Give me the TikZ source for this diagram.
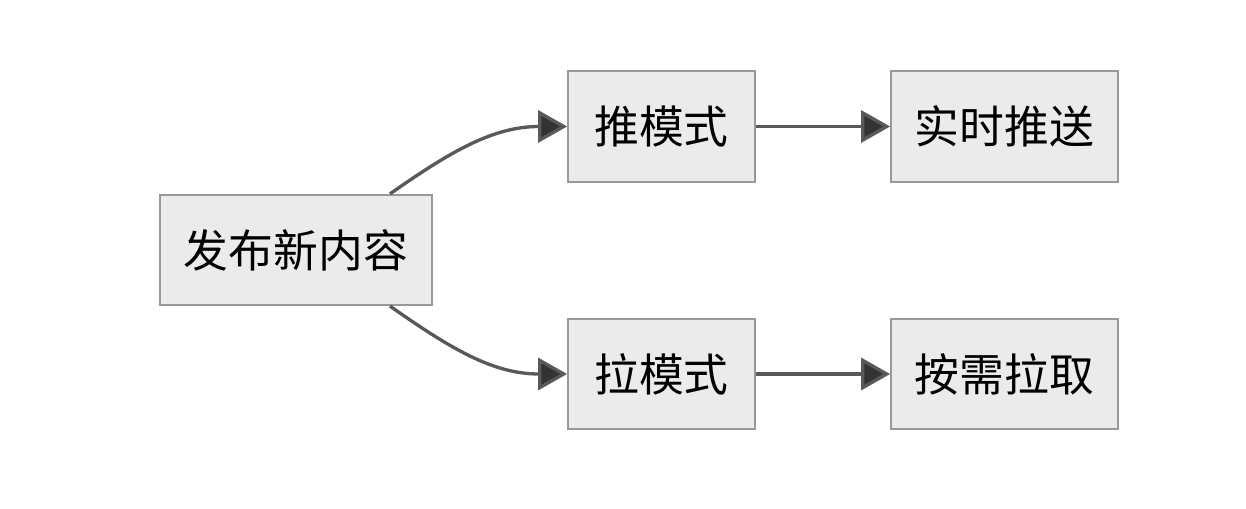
\documentclass[tikz,border=0pt]{standalone}
\usepackage{fontspec}
\setmainfont{Noto Sans CJK SC}
\usetikzlibrary{shapes, arrows, arrows.meta}

\tikzset{
  box/.style={draw=black!40, line width=1pt, fill=black!8, rectangle, minimum height=2.21cm, font=\fontsize{25.5}{30}\selectfont, inner sep=0pt},
  link/.style={draw=black!65, line width=1.9pt, -{Triangle[length=0.58cm, width=0.64cm, fill=black!80]}}
}

\begin{document}
\begin{tikzpicture}
\useasboundingbox (0, 0) rectangle (24.92, -10.16);
\node[box, minimum width=5.44cm] (n1) at (5.92, -5.0) {发布新内容};
\node[box, minimum width=3.74cm] (n2) at (13.23, -2.53) {推模式};
\node[box, minimum width=4.54cm] (n3) at (20.09, -2.53) {实时推送};
\node[box, minimum width=3.74cm] (n4) at (13.23, -7.48) {拉模式};
\node[box, minimum width=4.54cm] (n5) at (20.09, -7.48) {按需拉取};

\draw[link] ([xshift=1.88cm]n1.north) to[out=35, in=180] (n2.west);
\draw[link] ([xshift=1.88cm]n1.south) to[out=-35, in=180] (n4.west);
\draw[link] (n2) -- (n3);
\draw[link] (n4) -- (n5);
\end{tikzpicture}
\end{document}
